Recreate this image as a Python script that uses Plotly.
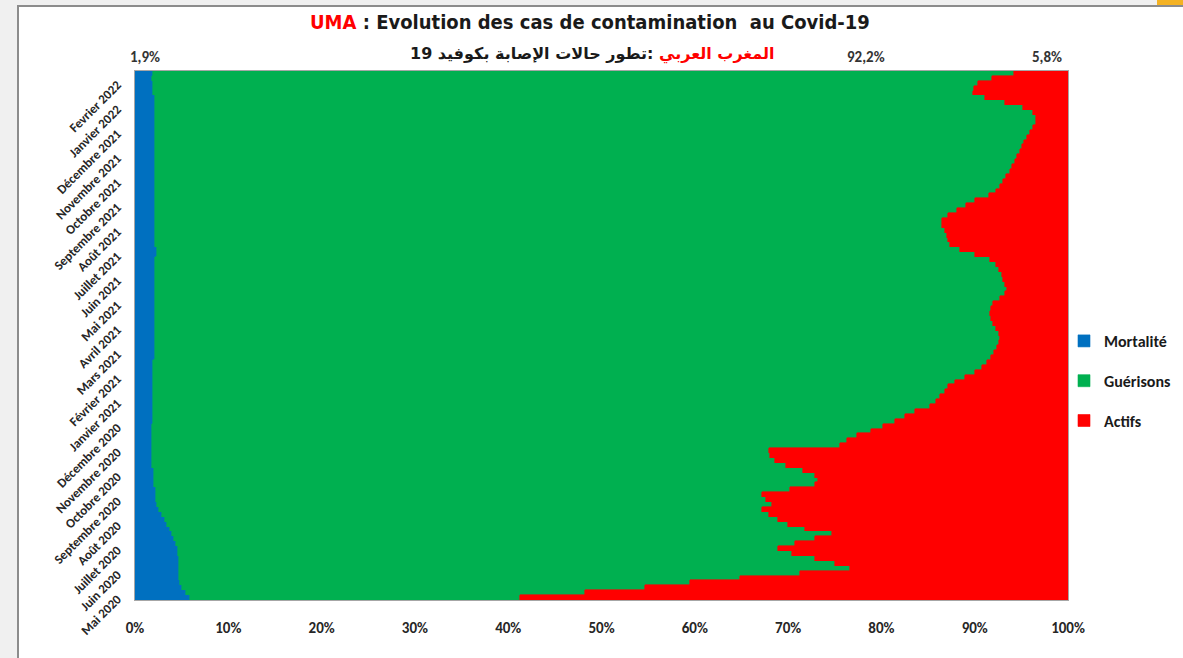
import plotly.graph_objects as go

# ---------------- data ----------------
months = ["Mai 2020", "Juin 2020", "Juillet 2020", "Août 2020", "Septembre 2020",
          "Octobre 2020", "Novembre 2020", "Décembre 2020", "Janvier 2021",
          "Février 2021", "Mars 2021", "Avril 2021", "Mai 2021", "Juin 2021",
          "Juillet 2021", "Août 2021", "Septembre 2021", "Octobre 2021",
          "Novembre 2021", "Décembre 2021", "Janvier 2022", "Fevrier 2022"]
points_per_month = 5

mortalite = [5.9, 5.5, 5.0, 4.8, 4.7, 4.7, 4.7, 4.7, 4.7, 4.6,
             4.6, 4.4, 4.2, 4.0, 3.7, 3.4, 3.2, 2.9, 2.6, 2.4,
             2.3, 2.3, 2.3, 2.0, 2.0, 2.0, 2.0, 1.8, 1.8, 1.8,
             1.8, 1.8, 1.8, 1.8, 1.8, 1.8, 1.9, 1.9, 1.9, 1.9,
             1.9, 1.9, 1.9, 1.9, 1.9, 1.9, 1.9, 1.9, 1.9, 2.1,
             2.1, 2.1, 2.1, 2.1, 2.1, 2.1, 2.1, 2.1, 2.1, 2.1,
             2.1, 2.1, 2.1, 2.1, 2.1, 2.1, 2.1, 2.1, 2.1, 2.1,
             2.4, 2.4, 2.1, 2.1, 2.1, 2.1, 2.1, 2.1, 2.1, 2.1,
             2.1, 2.1, 2.1, 2.1, 2.1, 2.1, 2.1, 2.1, 2.1, 2.1,
             2.1, 2.1, 2.1, 2.1, 2.1, 2.1, 2.1, 2.1, 2.1, 2.1,
             2.1, 2.1, 2.1, 1.9, 1.9, 1.9, 1.8, 1.9]

guerisons = [35.4, 42.7, 49.7, 54.7, 60.1, 66.6, 71.9, 70.3, 68.2, 65.8,
             64.3, 66.3, 68.7, 70.7, 68.1, 66.6, 65.7, 65.0, 64.6, 65.9,
             65.3, 64.9, 67.9, 70.9, 71.2, 70.9, 69.6, 68.0, 66.8, 66.3,
             66.1, 73.8, 74.5, 75.6, 77.1, 78.4, 79.6, 80.6, 81.7, 83.3,
             84.0, 84.4, 84.9, 85.2, 86.0, 87.1, 88.1, 88.9, 89.4, 89.7,
             90.0, 90.3, 90.5, 90.6, 90.5, 90.2, 89.9, 89.7, 89.5, 89.7,
             89.9, 90.6, 91.2, 91.4, 91.2, 90.9, 90.8, 90.5, 90.2, 89.5,
             87.6, 86.0, 85.3, 85.0, 84.9, 84.7, 84.4, 84.4, 85.0, 86.0,
             87.0, 87.9, 89.4, 90.2, 90.6, 90.9, 91.3, 91.7, 91.9, 92.2,
             92.4, 92.8, 93.0, 93.2, 93.5, 93.8, 94.2, 94.5, 94.5, 94.2,
             93.1, 91.2, 89.0, 87.9, 88.0, 88.5, 90.1, 92.2]

actifs = [58.7, 51.8, 45.3, 40.5, 35.2, 28.7, 23.4, 25.0, 27.1, 29.6,
          31.1, 29.3, 27.1, 25.3, 28.2, 30.0, 31.1, 32.1, 32.8, 31.7,
          32.4, 32.8, 29.8, 27.1, 26.8, 27.1, 28.4, 30.2, 31.4, 31.9,
          32.1, 24.4, 23.7, 22.6, 21.1, 19.8, 18.5, 17.5, 16.4, 14.8,
          14.1, 13.7, 13.2, 12.9, 12.1, 11.0, 10.0, 9.2, 8.7, 8.2,
          7.9, 7.6, 7.4, 7.3, 7.4, 7.7, 8.0, 8.2, 8.4, 8.2,
          8.0, 7.3, 6.7, 6.5, 6.7, 7.0, 7.1, 7.4, 7.7, 8.4,
          10.0, 11.6, 12.6, 12.9, 13.0, 13.2, 13.5, 13.5, 12.9, 11.9,
          10.9, 10.0, 8.5, 7.7, 7.3, 7.0, 6.6, 6.2, 6.0, 5.7,
          5.5, 5.1, 4.9, 4.7, 4.4, 4.1, 3.7, 3.4, 3.4, 3.7,
          4.8, 6.7, 8.9, 10.2, 10.1, 9.6, 8.1, 5.8]

x_ticks = [0, 10, 20, 30, 40, 50, 60, 70, 80, 90, 100]

# ---------------- layout geometry (pixels) ----------------
W_FIG, H_FIG = 1183, 658
L, R, T, B = 135, 1068, 71, 600
PW, PH = R - L, B - T


def fx(px):
    return (px - L) / PW


def fy(py):
    return (B - py) / PH


n = len(mortalite)
idx = list(range(n))

FONT = "Carlito, Lato, 'Open Sans', sans-serif"
NARROW = "'Liberation Sans Narrow', 'Arial Narrow', 'DejaVu Sans Condensed', sans-serif"

fig = go.Figure()
series = [("Mortalité", mortalite, "#0070c0"),
          ("Guérisons", guerisons, "#00b050"),
          ("Actifs", actifs, "#ff0000")]
for name, vals, col in series:
    fig.add_trace(go.Bar(
        y=idx, x=vals, orientation="h", name=name, legendgroup=name,
        marker=dict(color=col, line=dict(color=col, width=0.6)),
        hovertemplate=name + ": %{x:.1f}%<extra></extra>",
    ))

annotations = [
    dict(x=fx(590), y=fy(22), xref="paper", yref="paper", showarrow=False,
         xanchor="center", yanchor="middle",
         text='<span style="color:#ff0000">UMA</span> : Evolution des cas de contamination  au Covid-19',
         font=dict(family=NARROW, size=20, color="#1a1a1a", weight="bold")),
    dict(x=fx(592), y=fy(54), xref="paper", yref="paper", showarrow=False,
         xanchor="center", yanchor="middle",
         text='<span style="color:#ff0000">المغرب العربي</span> :تطور حالات الإصابة بكوفيد 19',
         font=dict(family="'DejaVu Sans', sans-serif", size=16, color="#1a1a1a", weight="bold")),
]
fmt = lambda v: f"{v:.1f}%".replace(".", ",")
for px, v in [(145, mortalite[-1]), (866, guerisons[-1]), (1047, actifs[-1])]:
    annotations.append(dict(x=fx(px), y=fy(57), xref="paper", yref="paper", showarrow=False,
                            xanchor="center", yanchor="middle", text=fmt(v),
                            font=dict(family=FONT, size=15, color="#333333", weight="bold")))

shapes = [
    dict(type="rect", xref="paper", yref="paper", layer="below",
         x0=fx(18), x1=fx(1200), y0=fy(6), y1=fy(670),
         fillcolor="white", line=dict(color="#8c8c8c", width=2)),
    dict(type="rect", xref="paper", yref="paper", layer="below",
         x0=fx(1157), x1=fx(1200), y0=fy(-5), y1=fy(5),
         fillcolor="#f4b223", line=dict(width=0)),
]

fig.update_layout(
    width=W_FIG, height=H_FIG,
    margin=dict(l=L, r=W_FIG - R, t=T, b=H_FIG - B, pad=0, autoexpand=False),
    paper_bgcolor="#f0f0f0", plot_bgcolor="white",
    barmode="stack", barnorm="percent", bargap=0,
    showlegend=True,
    legend=dict(x=fx(1064), y=fy(381), xanchor="left", yanchor="middle",
                traceorder="grouped", tracegroupgap=16, itemwidth=30,
                bgcolor="rgba(0,0,0,0)",
                font=dict(family=FONT, size=16, color="#1a1a1a", weight="bold")),
    annotations=annotations, shapes=shapes,
    xaxis=dict(range=[0, 100], tickvals=x_ticks, automargin=False,
               ticktext=[f"{v}%" for v in x_ticks],
               showgrid=False, zeroline=False, showline=True, linecolor="#a6a6a6",
               linewidth=1, mirror=True, ticks="", ticklabelstandoff=14,
               tickfont=dict(family=FONT, size=15, color="#262626", weight="bold")),
    yaxis=dict(range=[-0.5, n - 0.5], automargin=False,
               tickvals=[i * points_per_month for i in range(len(months))],
               ticktext=months, tickangle=-45,
               showgrid=False, zeroline=False, showline=True, linecolor="#a6a6a6",
               linewidth=1, mirror=True, ticks="", ticklabelstandoff=14,
               tickfont=dict(family=FONT, size=13, color="#262626", weight="bold")),
)

fig.write_html("out.html", config={"displayModeBar": False},
               post_script="document.body.style.margin='0';document.body.style.overflow='hidden';")
